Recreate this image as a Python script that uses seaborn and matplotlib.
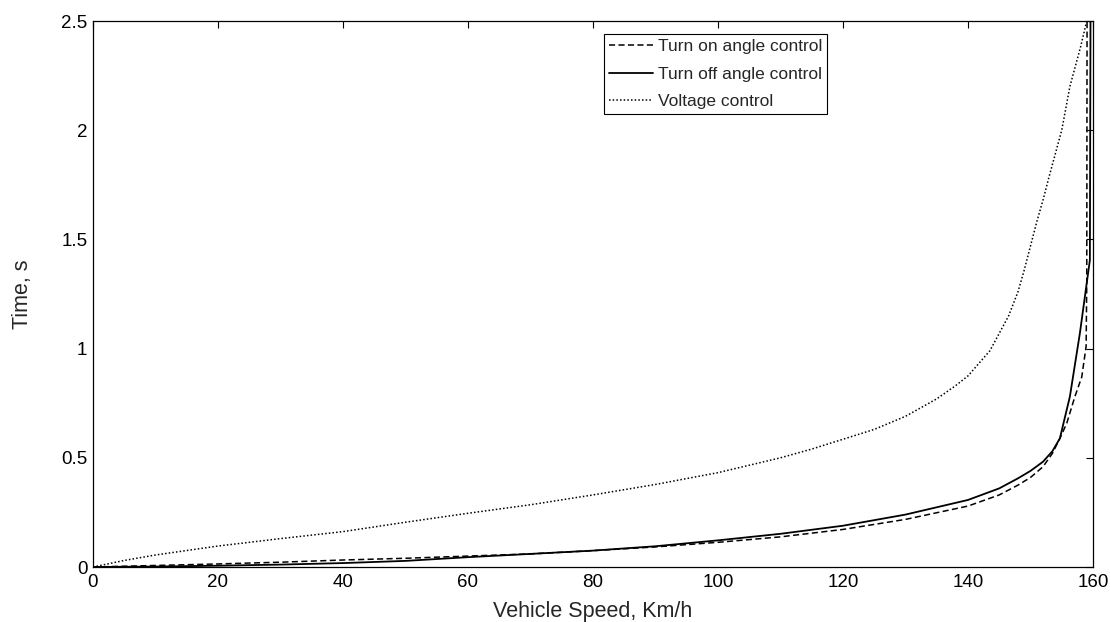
import matplotlib
matplotlib.use("Agg")
import matplotlib.pyplot as plt
import seaborn as sns
import numpy as np

# ---- data ----
on_speed = [0, 10, 20, 30, 40, 50, 60, 70, 80, 90, 100, 110, 120, 130, 140,
            145, 148, 150, 152, 153.5, 154.7, 155.8, 157.1, 158.2, 158.9, 159.0, 159.05]
on_time = [0, 0.007, 0.014, 0.022, 0.032, 0.040, 0.050, 0.060, 0.075, 0.092, 0.113,
           0.138, 0.172, 0.218, 0.279, 0.33, 0.375, 0.41, 0.459, 0.52, 0.589, 0.658,
           0.78, 0.87, 1.01, 1.30, 2.5]

off_speed = [0, 10, 20, 30, 40, 50, 60, 70, 80, 90, 100, 110, 120, 130, 140,
             145, 148, 150, 152, 153.5, 154.7, 156.3, 157.9, 159.5, 159.6, 159.8]
off_time = [0, 0.002, 0.006, 0.011, 0.018, 0.028, 0.045, 0.06, 0.075, 0.095, 0.122,
            0.152, 0.189, 0.24, 0.307, 0.36, 0.406, 0.44, 0.482, 0.53, 0.589, 0.78,
            1.07, 1.405, 2.5, 2.5]

volt_speed = [0, 5, 10, 20, 30, 40, 50, 60, 70, 80, 90, 100, 110, 115, 120, 125, 130,
              135, 138, 140, 143.5, 146.5, 148, 149, 150, 151, 152, 153, 155, 156.3,
              158, 159]
volt_time = [0, 0.03, 0.055, 0.096, 0.13, 0.162, 0.205, 0.246, 0.285, 0.33, 0.378,
             0.432, 0.50, 0.54, 0.585, 0.63, 0.69, 0.77, 0.83, 0.875, 0.99, 1.15,
             1.26, 1.36, 1.47, 1.58, 1.68, 1.79, 2.0, 2.2, 2.38, 2.5]

labels = ["Turn on angle control", "Turn off angle control", "Voltage control"]
x_ticks = [0, 20, 40, 60, 80, 100, 120, 140, 160]
y_ticks = [0, 0.5, 1, 1.5, 2, 2.5]
y_tick_labels = ["0", "0.5", "1", "1.5", "2", "2.5"]

sns.set_style("white")
plt.rcParams["font.family"] = ["Liberation Sans", "DejaVu Sans"]

fig = plt.figure(figsize=(11.1, 6.22), dpi=100)
ax = fig.add_axes([93 / 1110, 1 - 567 / 622, 1000 / 1110, 546 / 622])

sns.lineplot(x=on_speed, y=on_time, ax=ax, color="black", lw=1.1,
             linestyle=(0, (4, 2.2)), label=labels[0], sort=False, estimator=None)
sns.lineplot(x=off_speed, y=off_time, ax=ax, color="black", lw=1.3,
             linestyle="-", label=labels[1], sort=False, estimator=None)
sns.lineplot(x=volt_speed, y=volt_time, ax=ax, color="black", lw=1.1,
             linestyle=(0, (1, 1.4)), label=labels[2], sort=False, estimator=None)

ax.set_xlim(0, 160)
ax.set_ylim(0, 2.5)
ax.set_xticks(x_ticks)
ax.set_yticks(y_ticks)
ax.set_yticklabels(y_tick_labels)
ax.tick_params(direction="in", length=5, width=0.8, top=True, right=True,
               labelsize=13.5, colors="black", pad=5)
ax.tick_params(axis="y", pad=4)
for s in ax.spines.values():
    s.set_visible(True)
    s.set_color("black")
    s.set_linewidth(0.9)

ax.set_xlabel("Vehicle Speed, Km/h", fontsize=15.5, labelpad=7)
ax.set_ylabel("Time, s", fontsize=15.5, labelpad=20)

handles, labs = ax.get_legend_handles_labels()
leg = ax.legend(handles, labs, loc="upper left", bbox_to_anchor=(0.511, 0.976),
                borderaxespad=0, fontsize=12.5, frameon=True, fancybox=False,
                framealpha=1, edgecolor="black", handlelength=2.5,
                handletextpad=0.3, labelspacing=0.7, borderpad=0.3)
leg.get_frame().set_linewidth(0.8)

fig.savefig("out.png", dpi=100)
